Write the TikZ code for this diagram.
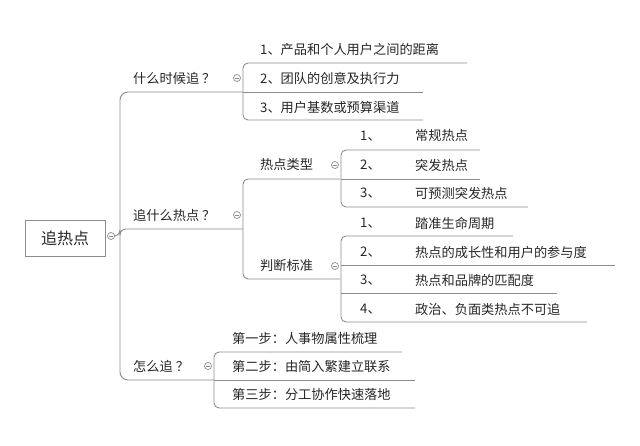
\documentclass[tikz,border=0pt]{standalone}
\usepackage{fontspec}
\setmainfont{Noto Sans CJK SC}
\begin{document}
\begin{tikzpicture}[x=1pt,y=-1pt,
  ln/.style={draw=black!45,line width=0.9pt},
  tx/.style={anchor=west,inner sep=0pt,font=\fontsize{13.2}{15}\selectfont,text=black!85},
  cir/.style={circle,draw=black!45,line width=0.7pt,minimum size=7pt,inner sep=0pt,fill=white,
    path picture={\draw[black!45,line width=0.6pt] ([xshift=-1.8pt]path picture bounding box.center)--([xshift=1.8pt]path picture bounding box.center);}}]
\useasboundingbox (0,0) rectangle (640,446);
% root
\node[draw=black!45,line width=0.8pt,minimum width=80pt,minimum height=36pt,inner sep=0pt,font=\fontsize{16}{18}\selectfont,text=black!85] (root) at (65,238) {追热点};
% main trunk
\draw[ln,rounded corners=8] (243,92) -- (120,92) -- (120,380) -- (214,380);
\draw[ln,rounded corners=6] (115,236) -- (120,236) -- (120,229) -- (243,229);
\node[cir] (rc) at (111,236) {};
% branch 1
\node[tx] (b1) at (133,78) {什么时候追 ？};
\draw[ln,rounded corners=5] (467,63) -- (243,63) -- (243,120) -- (423,120);
\draw[ln] (243,92) -- (423,92);
\node[cir] (c1) at (237,78) {};
\node[tx] (a1) at (260,49) {1、产品和个人用户之间的距离};
\node[tx] (a2) at (260,78) {2、团队的创意及执行力};
\node[tx] (a3) at (260,107) {3、用户基数或预算渠道};
% branch 2
\node[tx] (b2) at (133,215) {追什么热点 ？};
\draw[ln,rounded corners=5] (340,179) -- (243,179) -- (243,279) -- (340,279);
\node[cir] (c2) at (237,215) {};
\node[tx] (s1) at (260,165) {热点类型};
\draw[ln,rounded corners=5] (480,150) -- (341,150) -- (341,207) -- (528,207);
\draw[ln] (341,179) -- (480,179);
\node[cir] (cs1) at (335,165) {};
\node[tx] (n11) at (360,136) {1、};
\node[tx] (t11) at (415,136) {常规热点};
\node[tx] (n12) at (360,165) {2、};
\node[tx] (t12) at (415,165) {突发热点};
\node[tx] (n13) at (360,193) {3、};
\node[tx] (t13) at (415,193) {可预测突发热点};
\node[tx] (s2) at (260,266) {判断标准};
\draw[ln,rounded corners=5] (513,236) -- (341,236) -- (341,322) -- (587,322);
\draw[ln] (341,265) -- (615,265);
\draw[ln] (557,293) -- (341,293);
\node[cir] (cs2) at (335,266) {};
\node[tx] (n21) at (360,223) {1、};
\node[tx] (t21) at (415,223) {踏准生命周期};
\node[tx] (n22) at (360,252) {2、};
\node[tx] (t22) at (415,252) {热点的成长性和用户的参与度};
\node[tx] (n23) at (360,280) {3、};
\node[tx] (t23) at (415,280) {热点和品牌的匹配度};
\node[tx] (n24) at (360,309) {4、};
\node[tx] (t24) at (415,309) {政治、负面类热点不可追};
% branch 3
\node[tx] (b3) at (133,366) {怎么追 ？};
\draw[ln,rounded corners=5] (402,352) -- (214,352) -- (214,408) -- (415,408);
\draw[ln] (214,380) -- (415,380);
\node[cir] (c3) at (208,366) {};
\node[tx] (d1) at (232,338) {第一步：人事物属性梳理};
\node[tx] (d2) at (232,366) {第二步：由简入繁建立联系};
\node[tx] (d3) at (232,394) {第三步：分工协作快速落地};
\end{tikzpicture}
\end{document}
